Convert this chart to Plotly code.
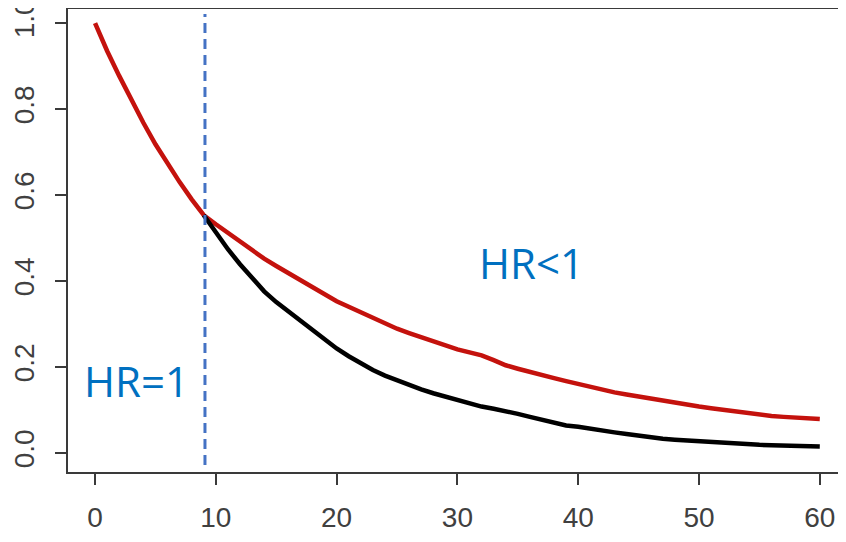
import plotly.graph_objects as go

# ---- data ----
months = list(range(0, 61))
red_surv = [1.000, 0.935, 0.877, 0.820, 0.768, 0.718, 0.672, 0.630, 0.590, 0.553,
            0.532, 0.512, 0.491, 0.471, 0.452, 0.435, 0.418, 0.402, 0.385, 0.368,
            0.353, 0.340, 0.327, 0.314, 0.302, 0.289, 0.279, 0.269, 0.259, 0.250,
            0.241, 0.234, 0.227, 0.216, 0.204, 0.196, 0.188, 0.181, 0.174, 0.167,
            0.160, 0.153, 0.147, 0.141, 0.136, 0.131, 0.127, 0.122, 0.118, 0.113,
            0.108, 0.104, 0.100, 0.096, 0.092, 0.088, 0.086, 0.084, 0.082, 0.080,
            0.079]
black_months = list(range(9, 61))
black_surv = [0.553, 0.512, 0.474, 0.439, 0.407, 0.376, 0.351, 0.329, 0.308, 0.285,
              0.263, 0.243, 0.225, 0.208, 0.193, 0.180, 0.169, 0.158, 0.148, 0.139,
              0.131, 0.124, 0.116, 0.108, 0.103, 0.098, 0.091, 0.084, 0.078, 0.070,
              0.064, 0.061, 0.056, 0.052, 0.048, 0.044, 0.040, 0.036, 0.033, 0.031,
              0.029, 0.027, 0.025, 0.024, 0.022, 0.020, 0.019, 0.018, 0.017, 0.016,
              0.016, 0.015]
cut_time = 9.1
x_ticks = [0, 10, 20, 30, 40, 50, 60]
y_ticks = [0.0, 0.2, 0.4, 0.6, 0.8, 1.0]
y_tick_text = ["0.0", "0.2", "0.4", "0.6", "0.8", "1.0"]
labels = ["HR=1", "HR<1"]
label_x = [3.39, 36.13]
label_y = [0.169, 0.444]

AX = "#3a3a3a"
TICKFONT = dict(family="Liberation Sans, Arial, sans-serif", size=28, color="#404040")

fig = go.Figure()
fig.add_trace(go.Scatter(x=months, y=red_surv, mode="lines",
                         line=dict(color="#C4120D", width=4.5), showlegend=False))
fig.add_trace(go.Scatter(x=black_months, y=black_surv, mode="lines",
                         line=dict(color="#000000", width=4.5), showlegend=False))

fig.add_shape(type="line", x0=cut_time, x1=cut_time, y0=-0.028, y1=1.021,
              xref="x", yref="y",
              line=dict(color="#4472C4", width=3, dash="10px,6px"))

for t, xx, yy in zip(labels, label_x, label_y):
    fig.add_annotation(x=xx, y=yy, text=t, showarrow=False, xref="x", yref="y",
                       font=dict(family="Open Sans, sans-serif", size=42, color="#0070C0"),
                       xanchor="center", yanchor="middle")

fig.update_layout(
    width=846, height=542,
    margin=dict(l=60, r=8, t=1, b=78, autoexpand=False),
    plot_bgcolor="white", paper_bgcolor="white",
    xaxis=dict(range=[-2.24, 62.17], tickvals=x_ticks, showgrid=False, zeroline=False,
               showline=True, linecolor=AX, linewidth=2, mirror=True,
               ticks="outside", ticklen=11, tickwidth=2, tickcolor=AX,
               tickfont=TICKFONT, ticklabelstandoff=8, automargin=False,
               ticklabeloverflow="allow"),
    yaxis=dict(range=[-0.0442, 1.0326], tickvals=y_ticks, ticktext=y_tick_text,
               showgrid=False, zeroline=False,
               showline=True, linecolor=AX, linewidth=2,
               ticks="outside", ticklen=11, tickwidth=2, tickcolor=AX,
               tickfont=TICKFONT, tickangle=-90, ticklabelstandoff=10, automargin=False,
               ticklabeloverflow="allow"),
)

fig.write_html(
    "out.html",
    post_script="document.querySelectorAll('svg.main-svg').forEach(function(s){s.style.overflow='visible';});",
)
